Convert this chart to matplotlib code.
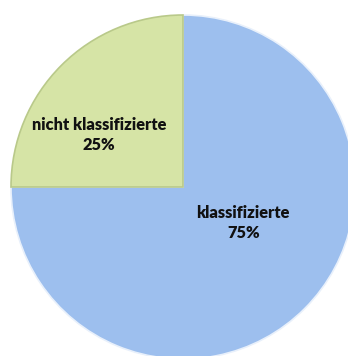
import matplotlib
matplotlib.use("Agg")
import matplotlib.pyplot as plt

# Daten
labels = ["klassifizierte", "nicht klassifizierte"]
werte = [75, 25]
farben = ["#9dbfee", "#d6e4a6"]

fig = plt.figure(figsize=(3.48, 3.56), dpi=100)
ax = fig.add_axes([0, 0, 1, 1])

wedges, _ = ax.pie(werte, colors=farben, startangle=90, counterclock=False,
                   radius=1.0, wedgeprops=dict(edgecolor="#e8f0fb", linewidth=1.2))
# etwas dunklerer Rand beim grünen Segment
wedges[1].set_edgecolor("#b9c98a")

# Mittelpunkt ca. bei Pixel (183, 187), Radius ca. 172 px
r_px = 172.0
ax.set_xlim(-183 / r_px, (348 - 183) / r_px)
ax.set_ylim(-(356 - 187) / r_px, 187 / r_px)
ax.set_aspect("auto")
ax.axis("off")

# Beschriftungen
pos = [(0.35, -0.21), (-0.49, 0.30)]
for lab, w, (x, y) in zip(labels, werte, pos):
    ax.text(x, y, f"{lab}\n{w}%", ha="center", va="center", fontsize=11.8,
            fontweight="heavy", family="Lato", color="#111111", linespacing=1.3)

fig.savefig("out.png", dpi=100)
